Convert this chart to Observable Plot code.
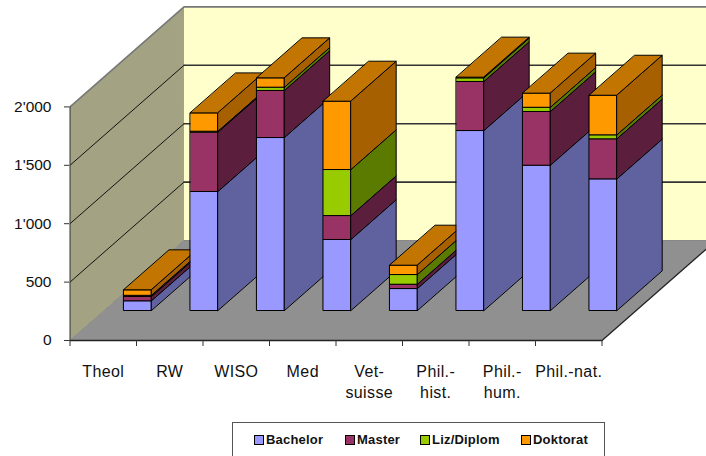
<!DOCTYPE html>
<html>
<head>
<meta charset="utf-8">
<script src="https://cdn.jsdelivr.net/npm/d3@7"></script>
<script src="https://cdn.jsdelivr.net/npm/@observablehq/plot@0.6"></script>
<style>
  html, body { margin: 0; padding: 0; background: #fff; overflow: hidden; width: 706px; height: 456px; }
  #chart { position: relative; width: 706px; height: 456px; font-family: "Liberation Sans", Arial, sans-serif; }
  #chart svg { display: block; }
  .legend { position: absolute; left: 232px; top: 422px; width: 373px; height: 40px; box-sizing: border-box;
            border: 1px solid #555; background: #fff; }
  .legend span.item { position: absolute; top: 9px; font-size: 13px; font-weight: bold; letter-spacing: .2px;
            color: #111; line-height: 16px; white-space: nowrap; }
  .legend i { display: inline-block; width: 8px; height: 8px; border: 1px solid #000; margin-right: 2px; vertical-align: -0.5px; }
</style>
</head>
<body>
<div id="chart"></div>
<script>
// Students per faculty, stacked by degree type
const categories = ["Theol", "RW", "WISO", "Med", "Vet-\nsuisse", "Phil.-\nhist.", "Phil.-\nhum.", "Phil.-nat."];
const bachelor = [83, 1019, 1481, 608, 188, 1541, 1244, 1127];
const master   = [37, 508, 403, 205, 37, 420, 460, 343];
const liz      = [10, 8, 28, 394, 83, 31, 36, 34];
const doktorat = [47, 157, 80, 585, 80, 6, 121, 339];

const seriesNames = ["Bachelor", "Master", "Liz/Diplom", "Doktorat"];
const seriesValues = [bachelor, master, liz, doktorat];
const frontColors = ["#9999FF", "#993366", "#99CC00", "#FF9900"];
const sideColors  = ["#5F629F", "#5B1F3D", "#5B7A00", "#A66000"];
const topColor = "#C27500";

const yTicks = [0, 500, 1000, 1500, 2000];
const thousands = d3.formatLocale({decimal: ".", thousands: "'", grouping: [3], currency: ["", ""]}).format(",");

// Oblique projection: a unit of depth moves a point right and up in data units
const depthX = 1.714;
const depthY = 856;
const project = (cat, value, depth) => ({x: cat + depth * depthX, y: value + depth * depthY});

const n = categories.length;
const yMax = 2911;
const polys = [];
const addPoly = (id, color, corners) =>
  corners.forEach(([c, v, d]) => polys.push({id, color, ...project(c, v, d)}));

// Chart box: left wall, back wall, floor
addPoly("wall-left", "#A3A383", [[0, 0, 0], [0, 2000, 0], [0, 2000, 1], [0, 0, 1]]);
addPoly("wall-back", "#FFFFCC", [[0, 0, 1], [0, 2000, 1], [n, 2000, 1], [n, 0, 1]]);
addPoly("floor", "#909090", [[0, 0, 0], [n, 0, 0], [n, 0, 1], [0, 0, 1]]);

// Bars sit in the middle of the depth range, drawn left to right and bottom to top
const barHalf = 0.205, d0 = 0.3, d1 = 0.7;
categories.forEach((_, i) => {
  const cx = i + 0.5, l = cx - barHalf, r = cx + barHalf;
  let base = 0;
  seriesValues.forEach((values, s) => {
    const top = base + values[i];
    addPoly(`side-${i}-${s}`, sideColors[s], [[r, base, d0], [r, top, d0], [r, top, d1], [r, base, d1]]);
    addPoly(`front-${i}-${s}`, frontColors[s], [[l, base, d0], [r, base, d0], [r, top, d0], [l, top, d0]]);
    base = top;
  });
  addPoly(`top-${i}`, topColor, [[l, base, d0], [r, base, d0], [r, base, d1], [l, base, d1]]);
});

const backGrid = [500, 1000, 1500].flatMap(v => [
  {id: v, ...project(0, v, 1)}, {id: v, ...project(n, v, 1)}
]);
const sideGrid = [500, 1000, 1500].flatMap(v => [
  {id: v, ...project(0, v, 0)}, {id: v, ...project(0, v, 1)}
]);
const topEdge = [project(0, 2000, 0), project(0, 2000, 1), project(n, 2000, 1)];
const innerEdge = [project(0, 0, 0), project(0, 0, 1), project(n, 0, 1)];
const floorEdge = [project(0, 0, 0), project(n, 0, 0), project(n, 0, 1)];
const frontEdge = [project(0, 0, 0), project(0, 2000, 0)];

const labelData = categories.map((text, i) => ({x: i + 0.5, text}));

const chart = Plot.plot({
  width: 706,
  height: 422,
  marginTop: 0,
  marginLeft: 69,
  marginRight: 0,
  marginBottom: 82,
  style: {fontFamily: '"Liberation Sans", Arial, sans-serif', fontSize: "15px", background: "transparent", color: "#111"},
  x: {domain: [0, n + depthX], range: [69.5, 715.5], axis: null},
  y: {domain: [0, yMax], range: [340, 0], axis: null},
  color: {type: "identity"},
  marks: [
    Plot.line(polys.filter(p => p.id.startsWith("wall") || p.id === "floor"),
      {x: "x", y: "y", z: "id", fill: "color", stroke: null, curve: "linear-closed"}),
    Plot.line(sideGrid, {x: "x", y: "y", z: "id", stroke: "#111", strokeWidth: 1}),
    Plot.line(backGrid, {x: "x", y: "y", z: "id", stroke: "#333", strokeWidth: 1.6}),
    Plot.line(topEdge, {x: "x", y: "y", stroke: "#777", strokeWidth: 1.6}),
    Plot.line(innerEdge, {x: "x", y: "y", stroke: "#888", strokeWidth: 1}),
    Plot.line(floorEdge, {x: "x", y: "y", stroke: "#222", strokeWidth: 1.3}),
    Plot.line(frontEdge, {x: "x", y: "y", stroke: "#333", strokeWidth: 1}),
    Plot.line(polys.filter(p => !(p.id.startsWith("wall") || p.id === "floor")),
      {x: "x", y: "y", z: "id", fill: "color", stroke: "#000", strokeWidth: 1, curve: "linear-closed"}),
    Plot.axisY({ticks: yTicks, tickFormat: thousands, tickSize: 5, tickPadding: 13, label: null, fontSize: 15.5, stroke: "#333"}),
    Plot.axisX({ticks: d3.range(n + 1), tickFormat: () => null, tickSize: 6, label: null, stroke: "#333"}),
    Plot.text(labelData, {x: "x", y: () => 0, text: "text", lineAnchor: "top", dy: 22, lineHeight: 1.31, fontSize: 16, fill: "#111",
      style: "letter-spacing:.4px"})
  ]
});

const root = document.getElementById("chart");
root.appendChild(chart);
// Slightly open tracking on the category labels
chart.querySelectorAll('g[aria-label="text"] text').forEach(t => t.setAttribute("letter-spacing", "0.4"));

// Legend box under the plot
const legend = document.createElement("div");
legend.className = "legend";
const legendLeft = [21, 112, 187, 288];
seriesNames.forEach((name, s) => {
  const item = document.createElement("span");
  item.className = "item";
  item.style.left = legendLeft[s] + "px";
  const swatch = document.createElement("i");
  swatch.style.background = frontColors[s];
  item.appendChild(swatch);
  item.appendChild(document.createTextNode(name));
  legend.appendChild(item);
});
root.appendChild(legend);
</script>
</body>
</html>
